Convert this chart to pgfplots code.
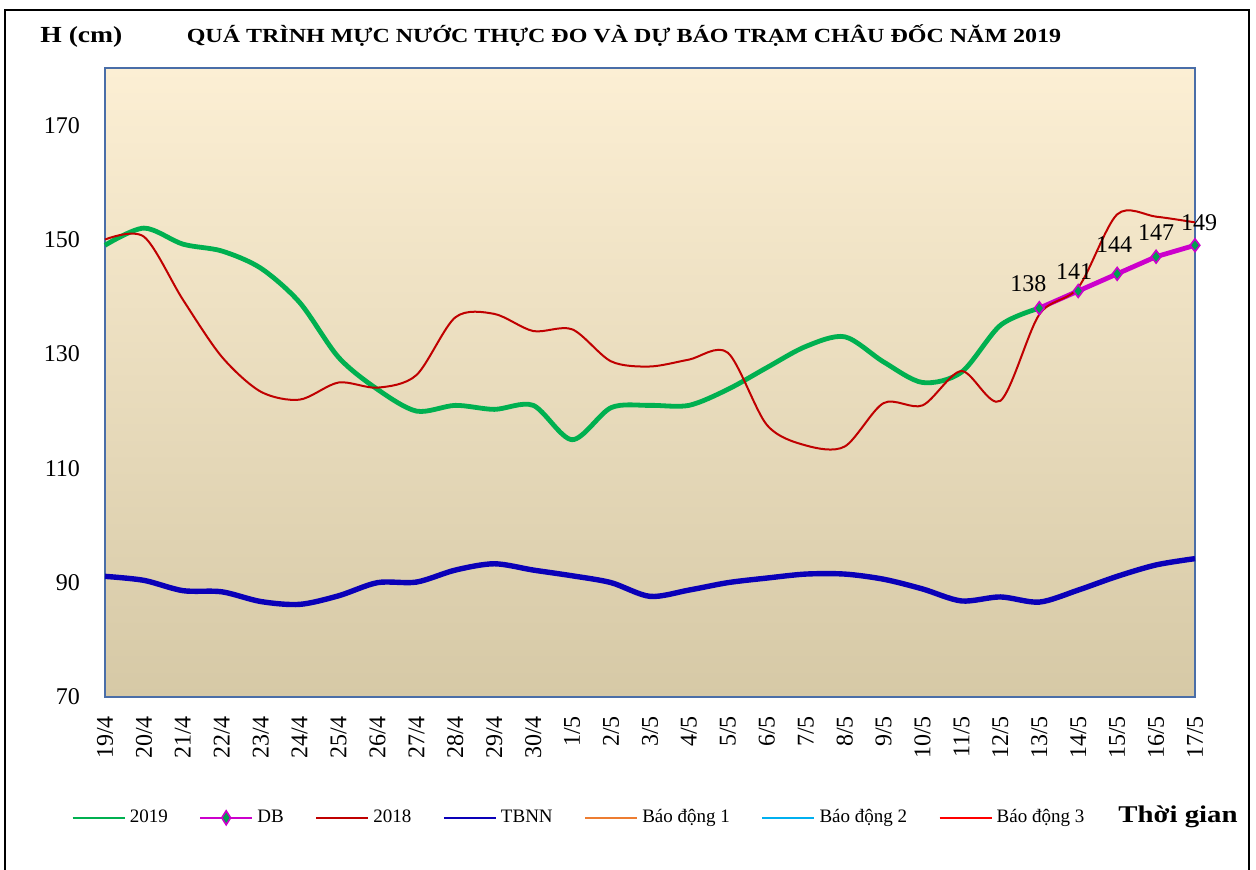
\documentclass[border=0pt]{standalone}
\usepackage{fontspec}
\setmainfont{Liberation Serif}
\newfontfamily\boldwide[FakeStretch=1.2]{Liberation Serif Bold}
\usepackage{pgfplots}
\usepackage{pgfplotstable}
\pgfplotsset{compat=1.18}
\definecolor{c2019}{RGB}{0,176,80}
\definecolor{dbmag}{RGB}{204,0,204}
\definecolor{dbfill}{RGB}{0,160,80}
\definecolor{c2018}{RGB}{192,0,0}
\definecolor{ctbnn}{RGB}{10,0,184}
\definecolor{bd1}{RGB}{237,125,49}
\definecolor{bd2}{RGB}{0,176,240}
\definecolor{bd3}{RGB}{255,0,0}
\definecolor{axblue}{RGB}{74,110,168}
\definecolor{bgtop}{RGB}{252,239,212}
\definecolor{bgbot}{RGB}{214,201,166}
\pgfplotstableread{
x  y    lab  dx    dy
24 138  138  -5.5  12.3
25 141  141  -2.0  9.5
26 144  144  -1.5  14.5
27 147  147  0.0   12.0
28 149  149  2.0   11.5
}\dbtable
\begin{document}
\begin{tikzpicture}
\begin{axis}[
  at={(52.5pt,86pt)}, anchor=south west,
  scale only axis, width=545pt, height=314.5pt,
  xmin=0, xmax=28, ymin=70, ymax=180,
  xtick={0,...,28},
  xticklabels={19/4,20/4,21/4,22/4,23/4,24/4,25/4,26/4,27/4,28/4,29/4,30/4,1/5,2/5,3/5,4/5,5/5,6/5,7/5,8/5,9/5,10/5,11/5,12/5,13/5,14/5,15/5,16/5,17/5},
  ytick={70,90,110,130,150,170},
  major tick length=0pt,
  /pgf/number format/assume math mode=true,
  axis line style={draw=axblue, line width=0.6pt},
  axis background/.style={top color=bgtop, bottom color=bgbot},
  yticklabel style={font=\fontsize{12}{14}\selectfont, xshift=-9pt},
  xticklabel style={font=\fontsize{12}{14}\selectfont, rotate=90, anchor=east},
  xticklabel shift=6pt,
  clip=false,
  legend columns=-1,
  legend style={at={(axis description cs:-0.0312,-0.192)}, anchor=west, draw=none, fill=none,
    inner sep=0pt, font=\fontsize{9.5}{11}\selectfont,
    nodes={inner sep=2pt},
    /tikz/every even column/.append style={column sep=13.6pt}},
  legend image code/.code={\draw[#1, line width=1.2pt] (0pt,0pt) -- (26pt,0pt);},
]
\addplot[c2019, line width=2.4pt, smooth, tension=0.5] coordinates {
(0,149) (1,152) (2,149.2) (3,148) (4,145) (5,139) (6,129.4) (7,123.8) (8,120) (9,121)
(10,120.3) (11,121) (12,115) (13,120.6) (14,121) (15,121) (16,123.8) (17,127.6) (18,131.3) (19,133)
(20,128.6) (21,125) (22,126.8) (23,135) (24,138)};
\addlegendentry{2019}
\addplot[dbmag, line width=2.4pt, mark=diamond*, mark size=3.2pt,
  mark options={fill=dbfill, draw=dbmag, line width=0.8pt},
  nodes near coords, point meta=explicit symbolic,
  visualization depends on={\thisrow{dx} \as \ldx},
  visualization depends on={\thisrow{dy} \as \ldy},
  every node near coord/.append style={font=\fontsize{12}{14}\selectfont, text=black,
     anchor=center, xshift=\ldx pt, yshift=\ldy pt},
  legend image code/.code={\draw[dbmag, line width=1.2pt] (0pt,0pt) -- (26pt,0pt);
     \draw[fill=dbfill, draw=dbmag, line width=0.8pt] (13pt,-3.5pt) -- (15.2pt,0pt) -- (13pt,3.5pt) -- (10.8pt,0pt) -- cycle;}
  ] table[x=x, y=y, meta=lab] {\dbtable};
\addlegendentry{DB}
\addplot[c2018, line width=1pt, smooth, tension=0.5] coordinates {
(0,150) (1,150.5) (2,139.5) (3,129.5) (4,123.4) (5,122) (6,125) (7,124.1) (8,126.3) (9,136.4)
(10,137) (11,134) (12,134.3) (13,128.7) (14,127.8) (15,129) (16,130.2) (17,117.6) (18,114) (19,113.8)
(20,121.4) (21,121) (22,127) (23,121.8) (24,136.9) (25,141.6) (26,154.4) (27,154) (28,153)};
\addlegendentry{2018}
\addplot[ctbnn, line width=2.7pt, smooth, tension=0.5] coordinates {
(0,91.1) (1,90.4) (2,88.6) (3,88.4) (4,86.7) (5,86.2) (6,87.7) (7,90.0) (8,90.1) (9,92.2)
(10,93.3) (11,92.2) (12,91.2) (13,90.0) (14,87.6) (15,88.7) (16,90.0) (17,90.8) (18,91.5) (19,91.5)
(20,90.6) (21,88.9) (22,86.8) (23,87.5) (24,86.6) (25,88.7) (26,91.1) (27,93.1) (28,94.2)};
\addlegendentry{TBNN}
\addlegendimage{bd1}
\addlegendentry{Báo động 1}
\addlegendimage{bd2}
\addlegendentry{Báo động 2}
\addlegendimage{bd3}
\addlegendentry{Báo động 3}
\end{axis}
\node[anchor=base west, inner sep=0pt, font=\boldwide\fontsize{11.5}{13}\selectfont] at (20pt,413pt) {H (cm)};
\node[anchor=base, inner sep=0pt, font=\boldwide\fontsize{10}{12}\selectfont] at (312pt,413pt) {QUÁ TRÌNH MỰC NƯỚC THỰC ĐO VÀ DỰ BÁO TRẠM CHÂU ĐỐC NĂM 2019};
\node[anchor=base west, inner sep=0pt, font=\boldwide\fontsize{12}{14}\selectfont] at (559pt,23.5pt) {Thời gian};
\draw[line width=1pt] (2.5pt,-10pt) -- (2.5pt,429.5pt) -- (624.5pt,429.5pt) -- (624.5pt,-10pt);
\pgfresetboundingbox
\useasboundingbox (0,0) rectangle (628pt,434.5pt);
\end{tikzpicture}
\end{document}
